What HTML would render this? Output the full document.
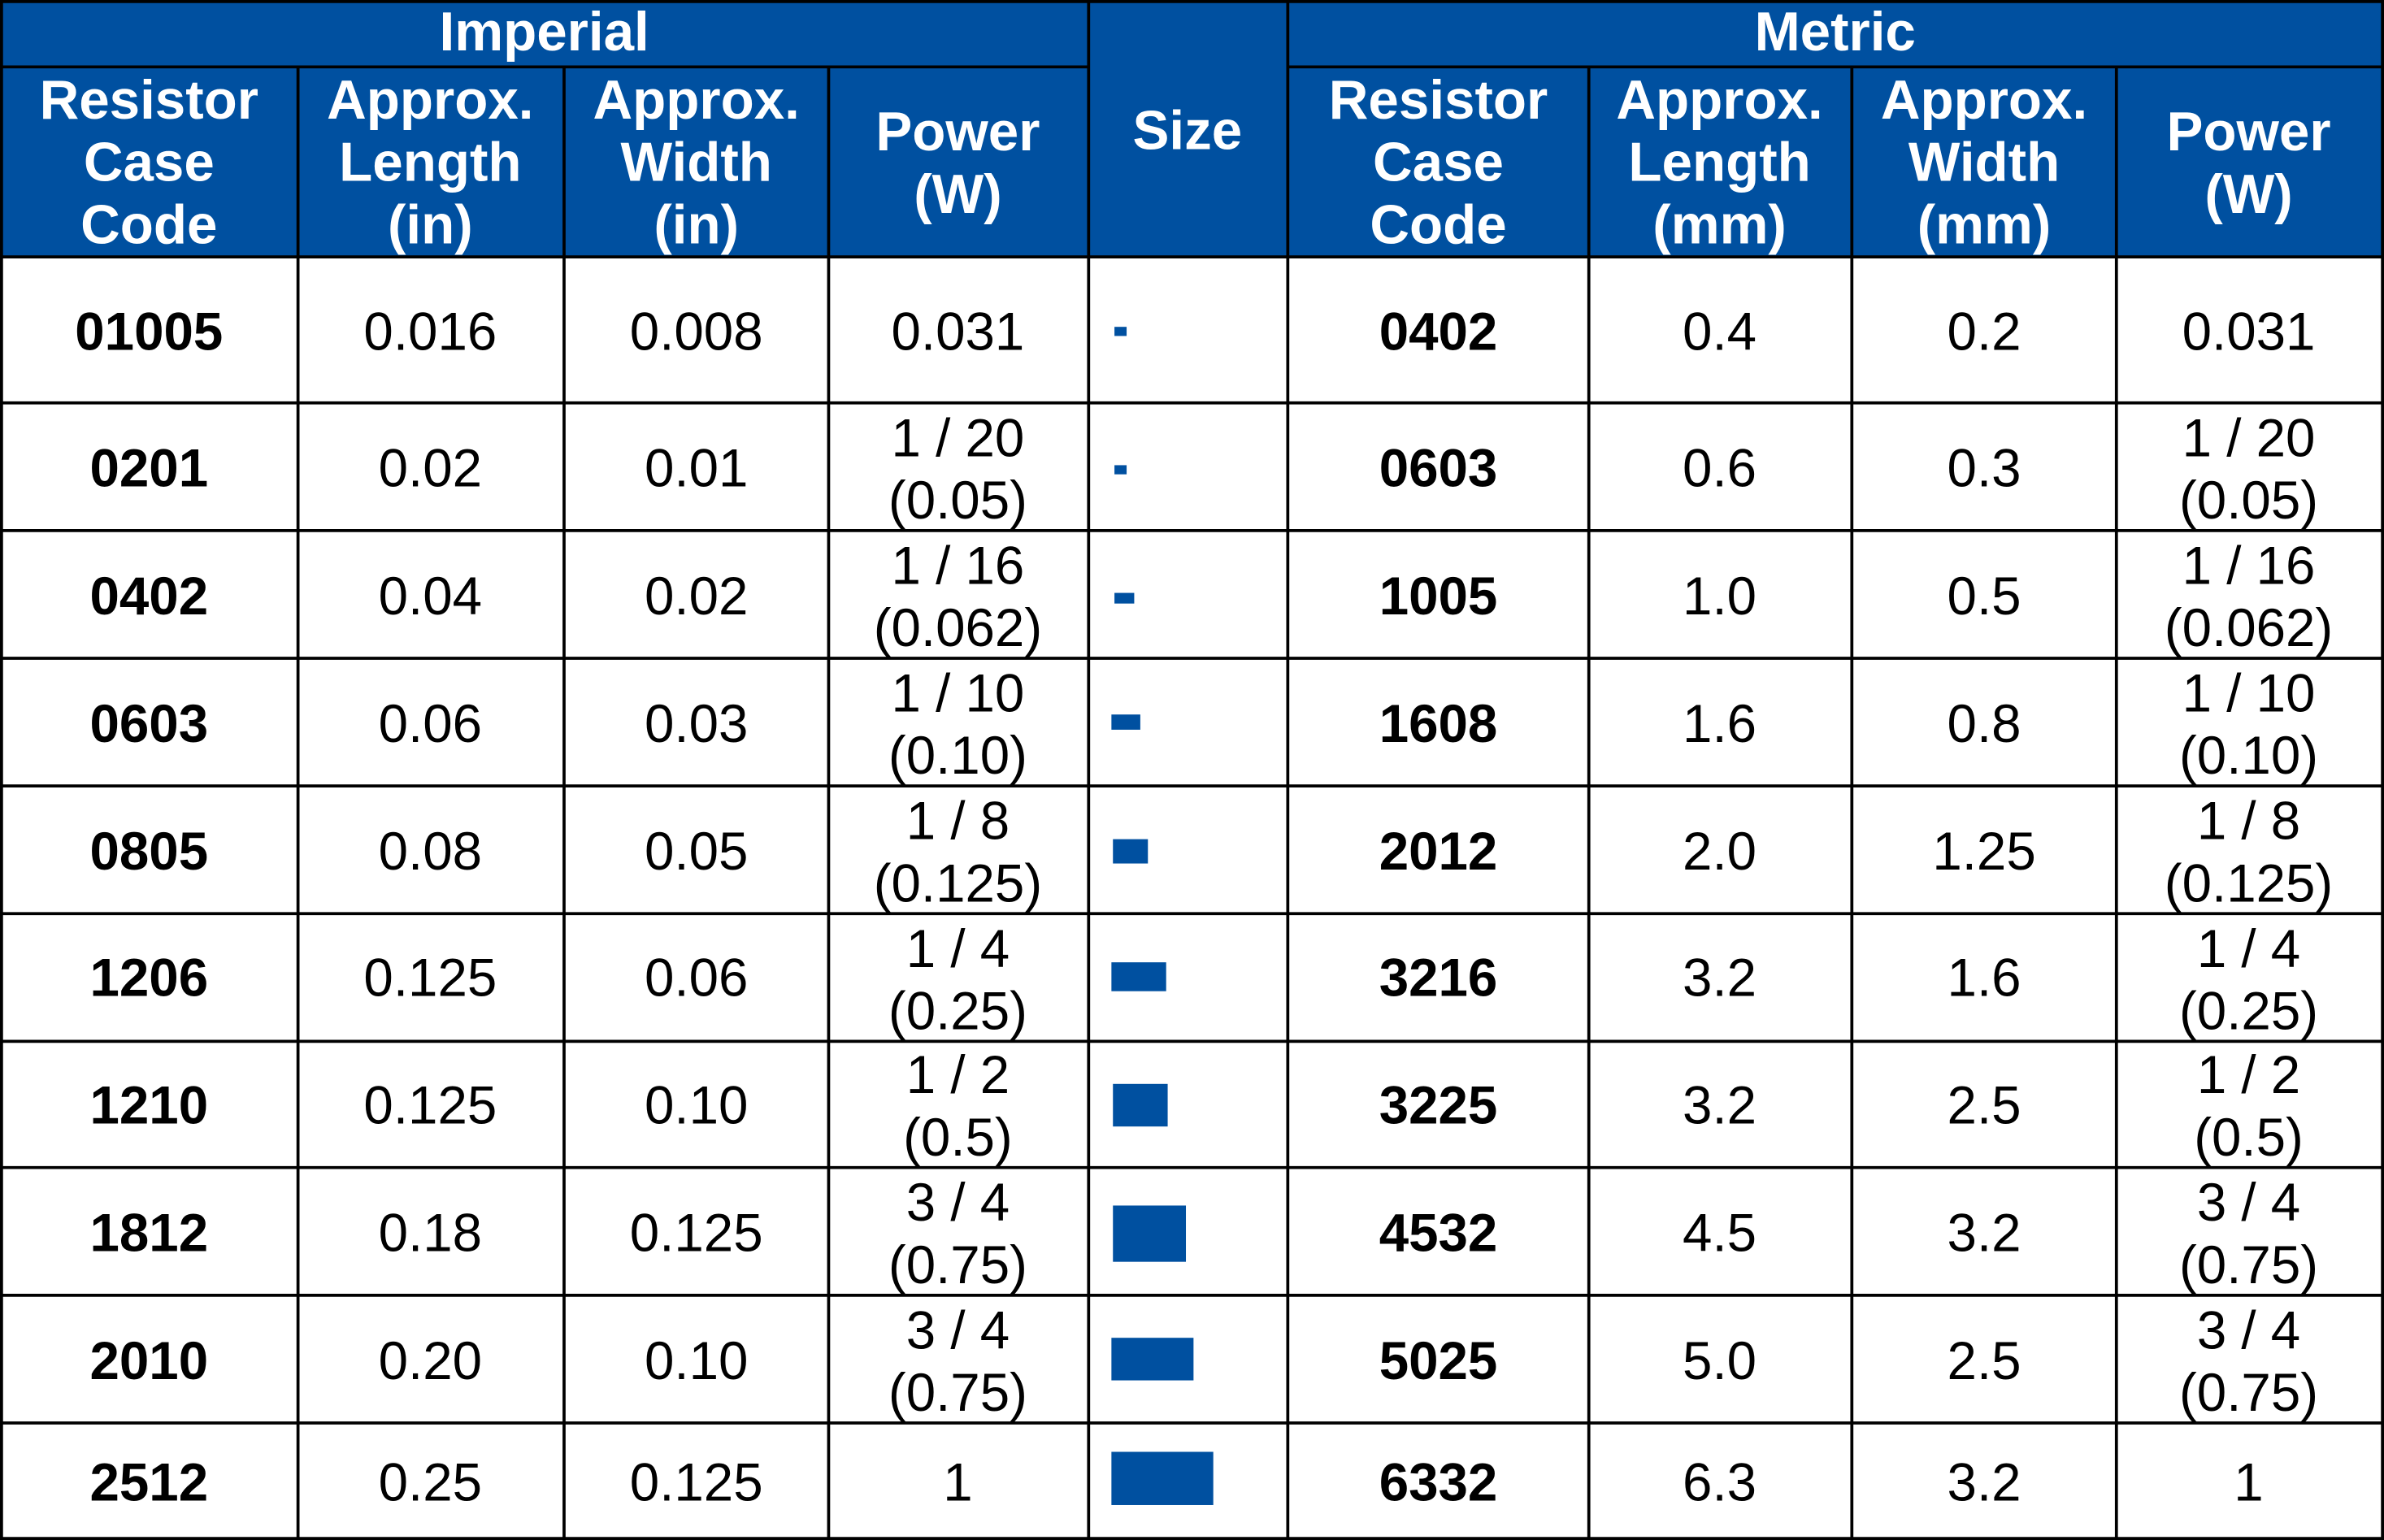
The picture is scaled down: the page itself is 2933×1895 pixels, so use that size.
<!DOCTYPE html>
<html><head><meta charset="utf-8"><style>html,body{margin:0;padding:0;background:#fff}svg{display:block}</style></head>
<body>
<svg width="2933" height="1895" viewBox="0 0 1568 1013" preserveAspectRatio="none" xmlns="http://www.w3.org/2000/svg" font-family="Liberation Sans, Arial, sans-serif">
<rect x="0" y="0" width="1568" height="1013" fill="#fff"/>
<rect x="0" y="0" width="1568" height="169" fill="#0050a0"/>
<g stroke="#000" stroke-width="2" fill="none">
<line x1="0" y1="44" x2="716" y2="44"/><line x1="847" y1="44" x2="1568" y2="44"/>
<line x1="0" y1="169" x2="1568" y2="169"/>
<line x1="0" y1="265" x2="1568" y2="265"/><line x1="0" y1="349" x2="1568" y2="349"/>
<line x1="0" y1="433" x2="1568" y2="433"/><line x1="0" y1="517" x2="1568" y2="517"/>
<line x1="0" y1="601" x2="1568" y2="601"/><line x1="0" y1="685" x2="1568" y2="685"/>
<line x1="0" y1="768" x2="1568" y2="768"/><line x1="0" y1="852" x2="1568" y2="852"/>
<line x1="0" y1="936" x2="1568" y2="936"/><line x1="0" y1="1012" x2="1568" y2="1012"/>
<line x1="1" y1="0" x2="1" y2="1013"/><line x1="1567" y1="0" x2="1567" y2="1013"/>
<line x1="196" y1="44" x2="196" y2="1013"/><line x1="371" y1="44" x2="371" y2="1013"/>
<line x1="545" y1="44" x2="545" y2="1013"/><line x1="716" y1="0" x2="716" y2="1013"/>
<line x1="847" y1="0" x2="847" y2="1013"/><line x1="1045" y1="44" x2="1045" y2="1013"/>
<line x1="1218" y1="44" x2="1218" y2="1013"/><line x1="1392" y1="44" x2="1392" y2="1013"/>
<line x1="0" y1="1" x2="1568" y2="1"/>
</g>
<g fill="#fff" font-weight="bold" font-size="36" text-anchor="middle" dominant-baseline="central">
<text x="358" y="21">Imperial</text><text x="1207" y="21">Metric</text>
<text x="98" y="66">Resistor</text><text x="98" y="107">Case</text><text x="98" y="148">Code</text>
<text x="283" y="66">Approx.</text><text x="283" y="107">Length</text><text x="283" y="148">(in)</text>
<text x="458" y="66">Approx.</text><text x="458" y="107">Width</text><text x="458" y="148">(in)</text>
<text x="630" y="87">Power</text><text x="630" y="128">(W)</text>
<text x="781" y="86">Size</text>
<text x="946" y="66">Resistor</text><text x="946" y="107">Case</text><text x="946" y="148">Code</text>
<text x="1131" y="66">Approx.</text><text x="1131" y="107">Length</text><text x="1131" y="148">(mm)</text>
<text x="1305" y="66">Approx.</text><text x="1305" y="107">Width</text><text x="1305" y="148">(mm)</text>
<text x="1479" y="87">Power</text><text x="1479" y="128">(W)</text>
</g>
<g fill="#0050a0">
<rect x="733" y="215" width="8" height="6"/><rect x="733" y="306" width="8" height="6"/>
<rect x="733" y="390" width="13" height="7"/><rect x="731" y="470" width="19" height="10"/>
<rect x="732" y="552" width="23" height="16"/><rect x="731" y="633" width="36" height="19"/>
<rect x="732" y="713" width="36" height="28"/><rect x="732" y="793" width="48" height="37"/>
<rect x="731" y="880" width="54" height="28"/><rect x="731" y="955" width="67" height="35"/>
</g>
<g fill="#000" font-size="35" text-anchor="middle" dominant-baseline="central">
<g font-weight="bold">
<text x="98" y="218">01005</text><text x="98" y="308">0201</text><text x="98" y="392">0402</text><text x="98" y="476">0603</text><text x="98" y="560">0805</text><text x="98" y="643">1206</text><text x="98" y="727">1210</text><text x="98" y="811">1812</text><text x="98" y="895">2010</text><text x="98" y="975">2512</text>
<text x="946" y="218">0402</text><text x="946" y="308">0603</text><text x="946" y="392">1005</text><text x="946" y="476">1608</text><text x="946" y="560">2012</text><text x="946" y="643">3216</text><text x="946" y="727">3225</text><text x="946" y="811">4532</text><text x="946" y="895">5025</text><text x="946" y="975">6332</text>
</g>
<text x="283" y="218">0.016</text><text x="283" y="308">0.02</text><text x="283" y="392">0.04</text><text x="283" y="476">0.06</text><text x="283" y="560">0.08</text><text x="283" y="643">0.125</text><text x="283" y="727">0.125</text><text x="283" y="811">0.18</text><text x="283" y="895">0.20</text><text x="283" y="975">0.25</text>
<text x="458" y="218">0.008</text><text x="458" y="308">0.01</text><text x="458" y="392">0.02</text><text x="458" y="476">0.03</text><text x="458" y="560">0.05</text><text x="458" y="643">0.06</text><text x="458" y="727">0.10</text><text x="458" y="811">0.125</text><text x="458" y="895">0.10</text><text x="458" y="975">0.125</text>
<text x="1131" y="218">0.4</text><text x="1131" y="308">0.6</text><text x="1131" y="392">1.0</text><text x="1131" y="476">1.6</text><text x="1131" y="560">2.0</text><text x="1131" y="643">3.2</text><text x="1131" y="727">3.2</text><text x="1131" y="811">4.5</text><text x="1131" y="895">5.0</text><text x="1131" y="975">6.3</text>
<text x="1305" y="218">0.2</text><text x="1305" y="308">0.3</text><text x="1305" y="392">0.5</text><text x="1305" y="476">0.8</text><text x="1305" y="560">1.25</text><text x="1305" y="643">1.6</text><text x="1305" y="727">2.5</text><text x="1305" y="811">3.2</text><text x="1305" y="895">2.5</text><text x="1305" y="975">3.2</text>
<text x="630" y="218">0.031</text>
<text x="630" y="288">1 / 20</text><text x="630" y="329">(0.05)</text>
<text x="630" y="372">1 / 16</text><text x="630" y="413">(0.062)</text>
<text x="630" y="456">1 / 10</text><text x="630" y="497">(0.10)</text>
<text x="630" y="540">1 / 8</text><text x="630" y="581">(0.125)</text>
<text x="630" y="624">1 / 4</text><text x="630" y="665">(0.25)</text>
<text x="630" y="707">1 / 2</text><text x="630" y="748">(0.5)</text>
<text x="630" y="791">3 / 4</text><text x="630" y="832">(0.75)</text>
<text x="630" y="875">3 / 4</text><text x="630" y="916">(0.75)</text>
<text x="630" y="975">1</text>
<text x="1479" y="218">0.031</text>
<text x="1479" y="288">1 / 20</text><text x="1479" y="329">(0.05)</text>
<text x="1479" y="372">1 / 16</text><text x="1479" y="413">(0.062)</text>
<text x="1479" y="456">1 / 10</text><text x="1479" y="497">(0.10)</text>
<text x="1479" y="540">1 / 8</text><text x="1479" y="581">(0.125)</text>
<text x="1479" y="624">1 / 4</text><text x="1479" y="665">(0.25)</text>
<text x="1479" y="707">1 / 2</text><text x="1479" y="748">(0.5)</text>
<text x="1479" y="791">3 / 4</text><text x="1479" y="832">(0.75)</text>
<text x="1479" y="875">3 / 4</text><text x="1479" y="916">(0.75)</text>
<text x="1479" y="975">1</text>
</g>
</svg>
</body></html>
